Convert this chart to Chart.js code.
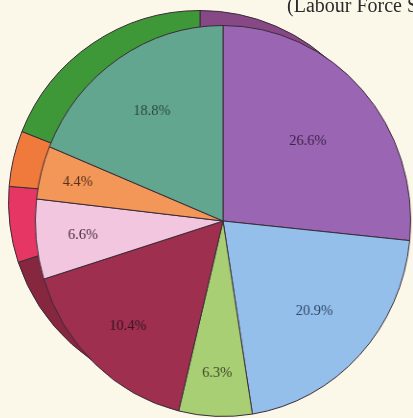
<!DOCTYPE html>
<html>
<head>
<meta charset="utf-8">
<script src="https://cdn.jsdelivr.net/npm/chart.js@4.4.1/dist/chart.umd.min.js"></script>
<style>
  html, body { margin: 0; padding: 0; width: 413px; height: 418px; overflow: hidden; background: #fbf8ea; }
  .pie { position: absolute; }
  #back { left: 8px; top: 10px; width: 384px; height: 384px; }
  #front { left: 27px; top: 25px; width: 392px; height: 392px; transform: scaleX(0.96); transform-origin: 50% 50%; }
  #note { position: absolute; left: 287px; top: -5px; font: 20px "Liberation Serif", serif; line-height: 20px; color: #2b2b2b; white-space: nowrap; }
</style>
</head>
<body>
<div id="back" class="pie"><canvas id="backCanvas"></canvas></div>
<div id="front" class="pie"><canvas id="frontCanvas"></canvas></div>
<div id="note">(Labour Force Survey)</div>
<script>
// slices, clockwise from the top
const categories = ['Group A', 'Group B', 'Group C', 'Group D', 'Group E', 'Group F', 'Group G'];
// front pie: share of each slice as drawn, and the printed label
const frontValues = [26.6, 20.9, 6.3, 16.4, 6.6, 4.4, 18.8];
const frontLabels = ['26.6%', '20.9%', '6.3%', '10.4%', '6.6%', '4.4%', '18.8%'];
// back pie (mostly hidden behind the front one)
const backValues = [26.0, 21.0, 6.5, 16.4, 6.4, 4.7, 19.0];

const frontColors = ['#9a65b2', '#93bfea', '#a9cf74', '#9e2f4f', '#f3c6e0', '#f29758', '#62a690'];
const backColors = ['#874886', '#5f8fc8', '#6fa850', '#86273f', '#e63764', '#f07a3c', '#3f9838'];

// puts the % text inside each slice of the front pie
const pctLabels = {
    id: 'pctLabels',
    afterDatasetsDraw(chart, args, opts) {
        const ctx = chart.ctx;
        const meta = chart.getDatasetMeta(0);
        ctx.save();
        ctx.font = opts.font;
        ctx.textAlign = 'center';
        ctx.textBaseline = 'middle';
        meta.data.forEach((arc, i) => {
            const p = arc.getProps(['x', 'y', 'startAngle', 'endAngle', 'outerRadius'], true);
            const mid = (p.startAngle + p.endAngle) / 2;
            const r = p.outerRadius * opts.radius[i];
            ctx.fillStyle = opts.colors[i];
            ctx.fillText(frontLabels[i], p.x + Math.cos(mid) * r, p.y + Math.sin(mid) * r);
        });
        ctx.restore();
    }
};

function makePie(canvas, values, colors, extra) {
    return new Chart(canvas, {
        type: 'pie',
        data: {
            labels: categories,
            datasets: [{
                data: values,
                backgroundColor: colors,
                borderColor: '#3a2b38',
                borderWidth: 1,
            }]
        },
        options: {
            responsive: true,
            maintainAspectRatio: false,
            animation: false,
            layout: { padding: 0 },
            plugins: Object.assign({
                legend: { display: false },
                tooltip: { enabled: false },
            }, extra || {})
        },
        plugins: extra ? [pctLabels] : []
    });
}

makePie(document.getElementById('backCanvas'), backValues, backColors);
makePie(document.getElementById('frontCanvas'), frontValues, frontColors, {
    pctLabels: {
        font: '15px "Liberation Serif", serif',
        colors: ['#3e2448', '#34486a', '#3d4a2a', '#3a1422', '#4a2e44', '#5a2e1e', '#2c4a40'],
        radius: [0.61, 0.67, 0.78, 0.74, 0.75, 0.80, 0.68]
    }
});
</script>
</body>
</html>
